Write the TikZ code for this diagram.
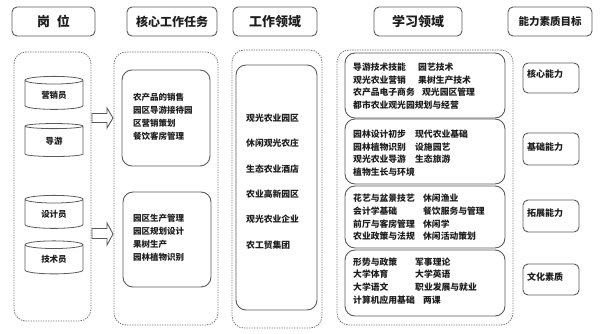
\documentclass[tikz,border=0pt]{standalone}
\usepackage{fontspec}
\setmainfont{Noto Sans CJK SC}
\usetikzlibrary{shapes.geometric}
\definecolor{bd}{HTML}{5A5A5A}
\definecolor{tx}{HTML}{1E1E1E}
\begin{document}
\begin{tikzpicture}[x=1pt,y=-1pt,
 hbox/.style={draw=bd, line width=0.9pt, rounded corners=5pt, minimum height=29pt, inner sep=0pt, text=tx, font=\fontsize{13}{13}\selectfont\bfseries},
 region/.style={draw=bd!85, line width=0.8pt, dash pattern=on 1.4pt off 1.1pt, rounded corners=12pt, inner sep=0pt},
 ibox/.style={draw=bd, line width=0.9pt, rounded corners=10pt, inner sep=0pt},
 body/.style={text=tx, font=\fontsize{8.5}{13}\selectfont\bfseries, align=left, inner sep=0pt, anchor=west},
 learn/.style={text=tx, font=\fontsize{8.8}{12.7}\selectfont\bfseries, align=left, inner sep=0pt, anchor=west},
 cyl/.style={cylinder, shape border rotate=90, aspect=0.3, draw=bd, line width=0.8pt, minimum width=58pt, minimum height=33pt, inner sep=0pt, text=tx, font=\fontsize{8.5}{8.5}\selectfont\bfseries},
 barrow/.style={draw=bd, line width=0.9pt, line join=miter},
 abox/.style={draw=bd, line width=0.9pt, rounded corners=5pt, minimum width=56pt, inner sep=0pt},
 atext/.style={text=tx, font=\fontsize{9}{9}\selectfont\bfseries, inner sep=0pt, anchor=west}
]
\useasboundingbox (0,0) rectangle (600,334);

% headers
\node[hbox, minimum width=83pt] (h1) at (53.5,21.5) {岗\hspace{7pt}位};
\node[hbox, minimum width=90pt, font=\fontsize{12}{12}\selectfont\bfseries] (h2) at (172,21.5) {核心工作任务};
\node[hbox, minimum width=84pt] (h3) at (275,21.5) {工作领域};
\node[hbox, minimum width=88pt] (h4) at (418,21.5) {学习领域};
\node[hbox, minimum width=84pt, font=\fontsize{10.5}{10.5}\selectfont\bfseries] (h5) at (550,21.5) {能力素质目标};

% dashed regions
\node[region, minimum width=77pt, minimum height=269pt] (d1) at (52.5,186.5) {};
\node[region, minimum width=104pt, minimum height=273pt] (d2) at (166,188.5) {};
\node[region, minimum width=90pt, minimum height=278pt] (d3) at (277,189) {};
\node[region, minimum width=176pt, minimum height=275pt] (d4) at (425,187.5) {};

% positions (cylinders)
\node[cyl] (p1) at (54,95) {营销员};
\node[cyl] (p2) at (54,141.5) {导游};
\node[cyl] (p3) at (54,214) {设计员};
\node[cyl] (p4) at (54,259.5) {技术员};

% block arrows from the positions region to the task region
\draw[barrow] (92,113.5) -- (107,113.5) -- (107,108) -- (113,118) -- (107,128) -- (107,122.5) -- (92,122.5) -- cycle;
\draw[barrow] (92,228.5) -- (107,228.5) -- (107,223) -- (113,234) -- (107,245) -- (107,238.5) -- (92,238.5) -- cycle;

% core tasks
\node[ibox, minimum width=88pt, minimum height=96pt] (c1) at (166,118) {};
\node[body] (c1t) at (133,116.5) {农产品的销售\\园区导游接待园\\区营销策划\\餐饮客房管理};
\node[ibox, minimum width=88pt, minimum height=95pt] (c2) at (167,239.5) {};
\node[body] (c2t) at (133,237.5) {园区生产管理\\园区规划设计\\果树生产\\园林植物识别};

% work domain
\node[ibox, minimum width=81pt, minimum height=245pt] (w) at (276.5,187.5) {};
\node[body, font=\fontsize{8.8}{25.4}\selectfont\bfseries] (wt) at (246,181.5) {观光农业园区\\休闲观光农庄\\生态农业酒店\\农业高新园区\\观光农业企业\\农工贸集团};

% learning domain
\node[ibox, minimum width=160pt, minimum height=65pt] (l1) at (425,85.5) {};
\node[learn] (l1t) at (353,86) {\makebox[65pt][l]{导游技术技能}园艺技术\\\makebox[65pt][l]{观光农业营销}果树生产技术\\\makebox[69pt][l]{农产品电子商务}观光园区管理\\都市农业观光园规划与经营};
\node[ibox, minimum width=160pt, minimum height=65pt] (l2) at (425,151.5) {};
\node[learn] (l2t) at (353,153) {\makebox[62pt][l]{园林设计初步}现代农业基础\\\makebox[62pt][l]{园林植物识别}设施园艺\\\makebox[62pt][l]{观光农业导游}生态旅游\\植物生长与环境};
\node[ibox, minimum width=160pt, minimum height=62pt] (l3) at (425,217) {};
\node[learn] (l3t) at (353,217.5) {\makebox[70pt][l]{花艺与盆景技艺}休闲渔业\\\makebox[70pt][l]{会计学基础}餐饮服务与管理\\\makebox[70pt][l]{前厅与客房管理}休闲学\\\makebox[70pt][l]{农业政策与法规}休闲活动策划};
\node[ibox, minimum width=160pt, minimum height=66pt] (l4) at (425,283) {};
\node[learn] (l4t) at (353,281) {\makebox[62pt][l]{形势与政策}军事理论\\\makebox[62pt][l]{大学体育}大学英语\\\makebox[62pt][l]{大学语文}职业发展与就业\\\makebox[70pt][l]{计算机应用基础}两课};

% abilities
\node[abox, minimum height=30pt] (a1) at (551,78) {};
\node[atext] (a1t) at (527,74) {核心能力};
\node[abox, minimum height=32pt] (a2) at (551,149) {};
\node[atext] (a2t) at (527,147) {基础能力};
\node[abox, minimum height=32pt] (a3) at (551,216) {};
\node[atext] (a3t) at (527,213) {拓展能力};
\node[abox, minimum height=31pt] (a4) at (551,279.5) {};
\node[atext] (a4t) at (527,277) {文化素质};
\end{tikzpicture}
\end{document}
